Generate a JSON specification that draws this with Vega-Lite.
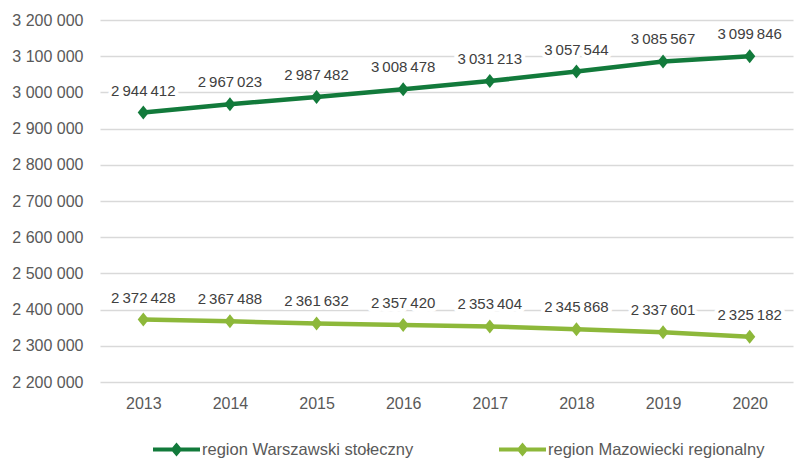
{
  "$schema": "https://vega.github.io/schema/vega-lite/v6.json",
  "width": 693,
  "height": 362,
  "autosize": "none",
  "padding": {"left": 100, "top": 20, "right": 12, "bottom": 78},
  "background": "white",
  "config": {
    "view": {"stroke": null},
    "font": "Liberation Sans",
    "locale": {"number": {"decimal": ",", "thousands": "\u2009", "grouping": [3], "currency": ["", " zł"]}}
  },
  "data": {
    "values": [
      {"year": "2013", "region": "region Warszawski stołeczny", "value": 2944412},
      {"year": "2014", "region": "region Warszawski stołeczny", "value": 2967023},
      {"year": "2015", "region": "region Warszawski stołeczny", "value": 2987482},
      {"year": "2016", "region": "region Warszawski stołeczny", "value": 3008478},
      {"year": "2017", "region": "region Warszawski stołeczny", "value": 3031213},
      {"year": "2018", "region": "region Warszawski stołeczny", "value": 3057544},
      {"year": "2019", "region": "region Warszawski stołeczny", "value": 3085567},
      {"year": "2020", "region": "region Warszawski stołeczny", "value": 3099846},
      {"year": "2013", "region": "region Mazowiecki regionalny", "value": 2372428},
      {"year": "2014", "region": "region Mazowiecki regionalny", "value": 2367488},
      {"year": "2015", "region": "region Mazowiecki regionalny", "value": 2361632},
      {"year": "2016", "region": "region Mazowiecki regionalny", "value": 2357420},
      {"year": "2017", "region": "region Mazowiecki regionalny", "value": 2353404},
      {"year": "2018", "region": "region Mazowiecki regionalny", "value": 2345868},
      {"year": "2019", "region": "region Mazowiecki regionalny", "value": 2337601},
      {"year": "2020", "region": "region Mazowiecki regionalny", "value": 2325182}
    ]
  },
  "encoding": {
    "x": {
      "field": "year", "type": "ordinal",
      "scale": {"type": "point", "padding": 0.5},
      "axis": {"title": null, "labelAngle": 0, "ticks": false, "domain": false, "labelFontSize": 16, "labelColor": "#595959", "labelPadding": 13, "grid": false}
    },
    "y": {
      "field": "value", "type": "quantitative",
      "scale": {"domain": [2200000, 3200000], "nice": false, "zero": false},
      "axis": {"title": null, "values": [2200000, 2300000, 2400000, 2500000, 2600000, 2700000, 2800000, 2900000, 3000000, 3100000, 3200000], "labelOverlap": false, "format": ",d", "labelExpr": "replace(replace(datum.label, '\u2009', ' '), '\u2009', ' ')", "ticks": false, "domain": false, "labelFontSize": 16, "labelColor": "#595959", "labelPadding": 17, "gridColor": "#d9d9d9", "gridWidth": 1.5}
    },
    "color": {
      "field": "region", "type": "nominal",
      "scale": {"domain": ["region Warszawski stołeczny", "region Mazowiecki regionalny"], "range": ["#127a3b", "#8db83a"]},
      "legend": {
        "title": null, "orient": "none", "legendX": 53, "legendY": 406, "direction": "horizontal",
        "symbolType": "M-1,-0.085 H1 V0.085 H-1 Z M0,-0.3 L0.25,0 L0,0.3 L-0.25,0 Z",
        "symbolSize": 2209, "symbolStrokeWidth": 0,
        "labelFontSize": 16.5, "labelColor": "#595959", "labelOffset": 2, "labelLimit": 400,
        "columnPadding": 85,
        "encode": {"symbols": {"update": {"fill": {"scale": "color", "field": "value"}, "stroke": {"value": "transparent"}, "opacity": {"value": 1}}}}
      }
    }
  },
  "layer": [
    {"mark": {"type": "line", "strokeWidth": 4.5}},
    {"mark": {"type": "point", "shape": "M-0.8,0 L0,-1 L0.8,0 L0,1 Z", "size": 196, "filled": true, "opacity": 1}, "encoding": {"color": {"field": "region", "type": "nominal", "legend": null}}},
    {"mark": {"type": "text", "dy": -22, "fontSize": 15, "stroke": "white", "strokeWidth": 8, "strokeJoin": "round", "color": "white"}, "encoding": {"text": {"field": "value", "type": "quantitative", "format": ",d"}, "color": {"value": "white"}}},
    {"mark": {"type": "text", "dy": -22, "fontSize": 15, "color": "#404040"}, "encoding": {"text": {"field": "value", "type": "quantitative", "format": ",d"}, "color": {"value": "#404040"}}}
  ]
}
